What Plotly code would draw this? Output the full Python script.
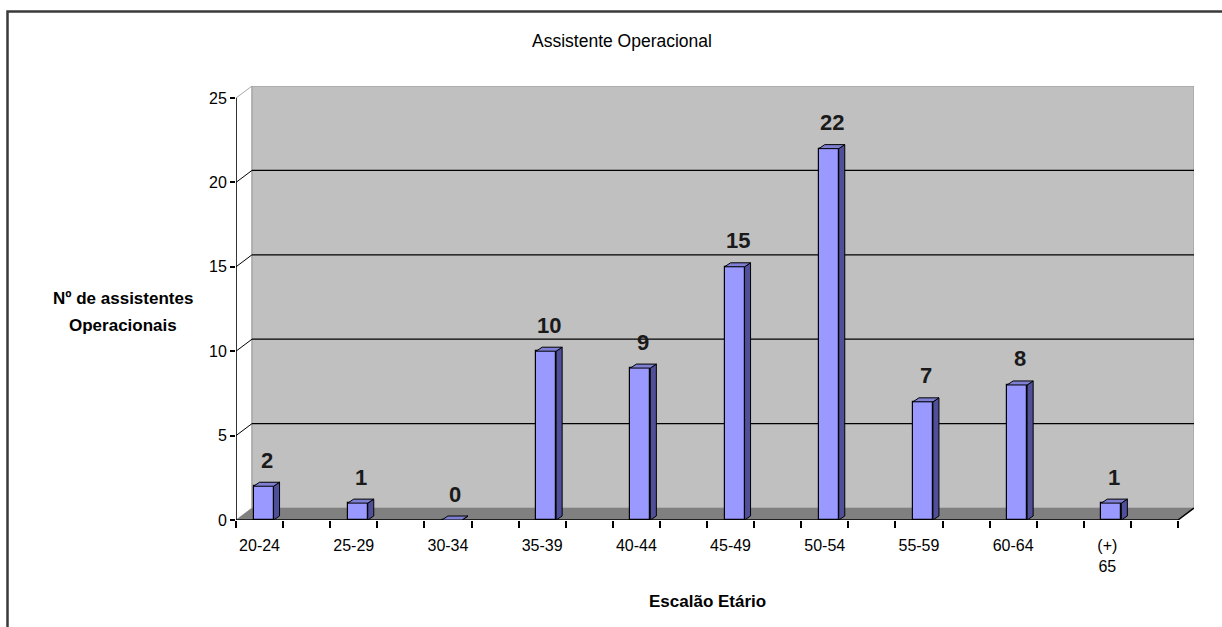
import plotly.graph_objects as go

# ---- data -------------------------------------------------------------
categories = ["20-24", "25-29", "30-34", "35-39", "40-44",
              "45-49", "50-54", "55-59", "60-64", "(+)<br>65"]
counts = [2, 1, 0, 10, 9, 15, 22, 7, 8, 1]
y_tick_values = [0, 5, 10, 15, 20, 25]

chart_title = "Assistente Operacional"
y_title_lines = ["Nº de assistentes", "Operacionais"]
x_title = "Escalão Etário"

# ---- geometry ---------------------------------------------------------
FIG_W, FIG_H = 1222, 627
M_L, M_R, M_T, M_B = 236, 28, 86, 107
PLOT_W = FIG_W - M_L - M_R
PLOT_H = FIG_H - M_T - M_B
WALL_DEPTH_PX = (16, 12)      # offset of the back wall from the front plane
BAR_DEPTH_PX = (6, 4)         # depth of each 3-D bar
BAR_WIDTH_PX = 20
BAR_SHIFT_PX = 4

FONT = "Liberation Sans, Arial, sans-serif"

x_lo = -0.25
x_axis_end = len(categories) - 0.25
y_max = y_tick_values[-1]

sx = (PLOT_W - WALL_DEPTH_PX[0]) / (x_axis_end - x_lo)   # px per category
sy = (PLOT_H - WALL_DEPTH_PX[1]) / y_max                  # px per unit
wx, wy = WALL_DEPTH_PX[0] / sx, WALL_DEPTH_PX[1] / sy
dx, dy = BAR_DEPTH_PX[0] / sx, BAR_DEPTH_PX[1] / sy
bar_w = BAR_WIDTH_PX / sx
bar_shift = BAR_SHIFT_PX / sx


def paper_x(px):
    return (px - M_L) / PLOT_W


def paper_y(py):
    return (FIG_H - M_B - py) / PLOT_H


def poly(points):
    return "M " + " L ".join(f"{x},{y}" for x, y in points) + " Z"


shapes = []

# side wall (left)
shapes.append(dict(type="path", xref="x", yref="y", layer="below",
                   path=poly([(x_lo, 0), (x_lo + wx, wy), (x_lo + wx, y_max + wy), (x_lo, y_max)]),
                   fillcolor="#ffffff", line=dict(color="#a8a8a8", width=1)))
# back wall
shapes.append(dict(type="path", xref="x", yref="y", layer="below",
                   path=poly([(x_lo + wx, wy), (x_axis_end + wx, wy),
                              (x_axis_end + wx, y_max + wy), (x_lo + wx, y_max + wy)]),
                   fillcolor="#c0c0c0", line=dict(color="#9a9a9a", width=1)))
# floor
shapes.append(dict(type="path", xref="x", yref="y", layer="below",
                   path=poly([(x_lo, 0), (x_axis_end, 0), (x_axis_end + wx, wy), (x_lo + wx, wy)]),
                   fillcolor="#808080", line=dict(width=0)))

# gridlines on the back wall and their continuation on the side wall
for v in y_tick_values[1:-1]:
    shapes.append(dict(type="line", xref="x", yref="y", layer="below",
                       x0=x_lo + wx, x1=x_axis_end + wx, y0=v + wy, y1=v + wy,
                       line=dict(color="#000000", width=1.3)))
    shapes.append(dict(type="line", xref="x", yref="y", layer="below",
                       x0=x_lo, x1=x_lo + wx, y0=v, y1=v + wy,
                       line=dict(color="#000000", width=1)))

# axis lines: value axis, category axis and floor edge
shapes.append(dict(type="path", xref="x", yref="y", layer="above",
                   path=f"M {x_lo},{y_max} L {x_lo},0 L {x_axis_end},0 L {x_axis_end + wx},{wy}",
                   line=dict(color="#000000", width=1.5)))

# depth faces of the bars
for i, v in enumerate(counts):
    x0 = i + bar_shift - bar_w / 2
    x1 = i + bar_shift + bar_w / 2
    shapes.append(dict(type="path", xref="x", yref="y", layer="above",
                       path=poly([(x1, 0), (x1 + dx, dy), (x1 + dx, v + dy), (x1, v)]),
                       fillcolor="#50509a", line=dict(color="#000000", width=1)))
    shapes.append(dict(type="path", xref="x", yref="y", layer="above",
                       path=poly([(x0, v), (x1, v), (x1 + dx, v + dy), (x0 + dx, v + dy)]),
                       fillcolor="#7f7fd4", line=dict(color="#000000", width=1)))

# outer frame of the chart
shapes.append(dict(type="path", xref="paper", yref="paper", layer="above",
                   path=f"M {paper_x(7.5)},{paper_y(640)} L {paper_x(7.5)},{paper_y(11.5)} "
                        f"L {paper_x(1240)},{paper_y(11.5)}",
                   line=dict(color="#3a3a3a", width=2.5)))

fig = go.Figure()
fig.add_trace(go.Bar(
    x=[i + bar_shift for i in range(len(categories))],
    y=counts,
    width=bar_w,
    marker=dict(color="#9999ff", line=dict(color="#000000", width=1.2)),
    hoverinfo="skip",
    showlegend=False,
))

annotations = []
for i, v in enumerate(counts):
    annotations.append(dict(x=i + bar_shift + dx / 2, y=v, xref="x", yref="y",
                            text=f"<b>{v}</b>", showarrow=False,
                            yanchor="middle", yshift=26,
                            font=dict(family=FONT, size=22, color="#1a1a1a")))

annotations.append(dict(x=paper_x(622), y=paper_y(41), xref="paper", yref="paper",
                        text=chart_title, showarrow=False,
                        xanchor="center", yanchor="middle",
                        font=dict(family=FONT, size=17.5, color="#000000")))
for line, py in zip(y_title_lines, (298, 325)):
    annotations.append(dict(x=paper_x(123), y=paper_y(py), xref="paper", yref="paper",
                            text=f"<b>{line}</b>", showarrow=False,
                            xanchor="center", yanchor="middle",
                            font=dict(family=FONT, size=17, color="#000000")))
annotations.append(dict(x=paper_x(707), y=paper_y(601), xref="paper", yref="paper",
                        text=f"<b>{x_title}</b>", showarrow=False,
                        xanchor="center", yanchor="middle",
                        font=dict(family=FONT, size=17, color="#000000")))

fig.update_layout(
    width=FIG_W, height=FIG_H, autosize=False,
    margin=dict(l=M_L, r=M_R, t=M_T, b=M_B, pad=0),
    paper_bgcolor="#ffffff", plot_bgcolor="rgba(0,0,0,0)",
    template="none",
    shapes=shapes, annotations=annotations,
    xaxis=dict(range=[x_lo, x_axis_end + wx], showgrid=False, zeroline=False,
               showline=False, automargin=False,
               tickmode="array", tickvals=list(range(len(categories))),
               ticktext=categories, ticks="", ticklabelstandoff=14,
               tickfont=dict(family=FONT, size=16, color="#000000"),
               minor=dict(tickmode="array",
                          tickvals=[x_lo + 0.5 * k for k in range(2 * len(categories) + 1)],
                          ticks="outside", ticklen=7, tickwidth=1.5, tickcolor="#000000",
                          showgrid=False),
               fixedrange=True),
    yaxis=dict(range=[0, y_max + wy], showgrid=False, zeroline=False,
               showline=False, automargin=False,
               tickmode="array", tickvals=y_tick_values,
               ticks="outside", ticklen=5, tickwidth=1.5, tickcolor="#000000",
               tickfont=dict(family=FONT, size=16, color="#000000"),
               fixedrange=True),
    bargap=0,
)

fig.write_html("out.html")
